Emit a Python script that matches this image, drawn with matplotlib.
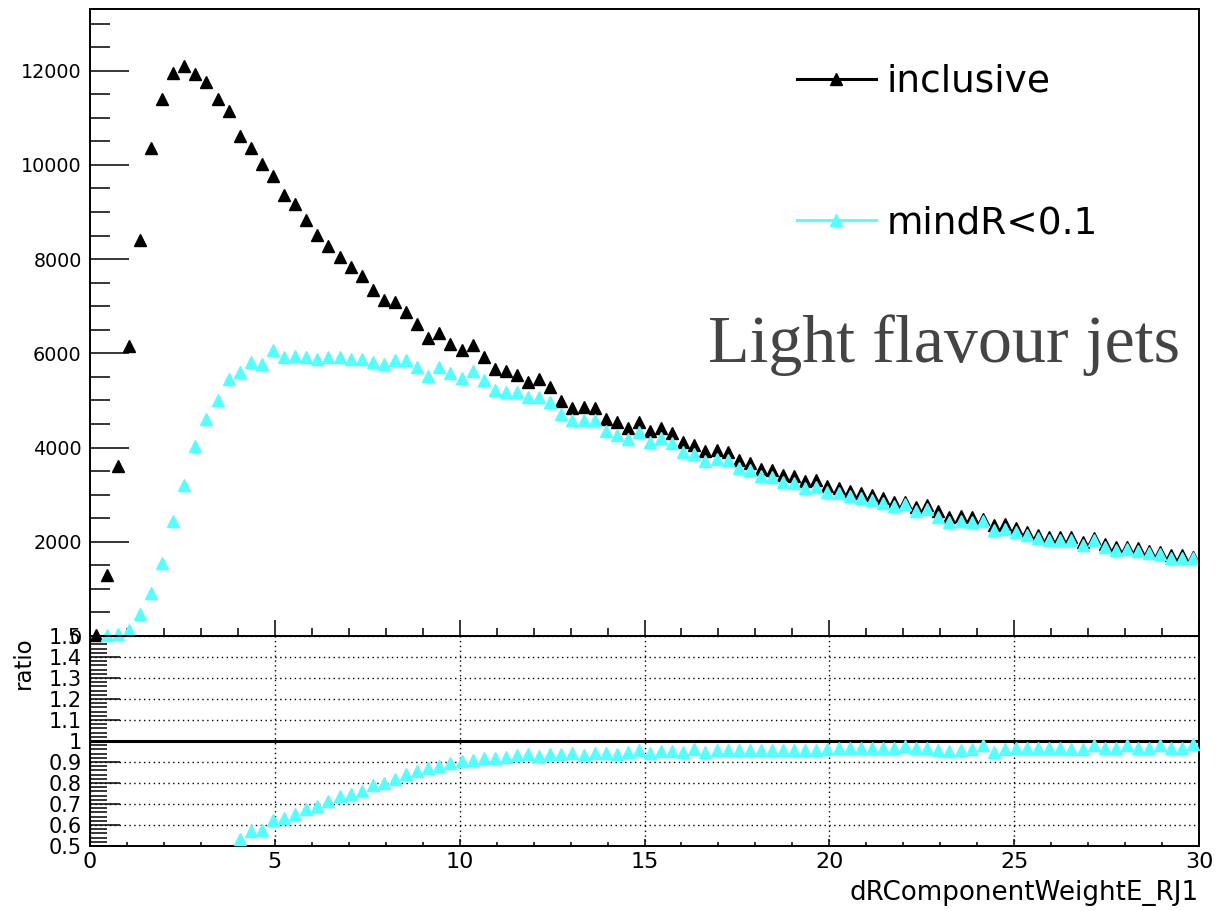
import numpy as np
import matplotlib
matplotlib.use('Agg')
import matplotlib.pyplot as plt
from matplotlib.lines import Line2D
from matplotlib.ticker import MultipleLocator, FixedLocator, FuncFormatter

# histogram binning: 100 bins on [0, 30]
bin_edges = np.linspace(0, 30, 101)
bin_centers = 0.5 * (bin_edges[:-1] + bin_edges[1:])

inclusive = [30, 1300, 3600, 6150, 8410, 10360, 11400, 11960, 12100, 11920,
             11770, 11410, 11140, 10620, 10360, 10030, 9760, 9360, 9180, 8840,
             8510, 8280, 8040, 7840, 7650, 7350, 7140, 7100, 6870, 6625,
             6320, 6440, 6200, 6070, 6180, 5920, 5660, 5620, 5540, 5400,
             5450, 5290, 4990, 4850, 4865, 4850, 4600, 4545, 4405, 4545,
             4355, 4405, 4300, 4120, 4050, 3920, 3945, 3905, 3730, 3675,
             3555, 3530, 3410, 3390, 3290, 3305, 3185, 3150, 3075, 3030,
             2985, 2920, 2850, 2845, 2745, 2780, 2650, 2530, 2545, 2525,
             2490, 2355, 2370, 2285, 2215, 2140, 2105, 2105, 2105, 2000,
             2070, 1945, 1895, 1895, 1860, 1815, 1780, 1710, 1710, 1675]

# first bin is empty (not drawn)
mindr = [np.nan, 20, 40, 130, 470, 905, 1545, 2440, 3215, 4030,
         4615, 5020, 5460, 5610, 5825, 5765, 6070, 5915, 5945, 5915,
         5880, 5930, 5915, 5880, 5880, 5810, 5775, 5850, 5860, 5705,
         5515, 5705, 5590, 5470, 5630, 5435, 5220, 5175, 5175, 5080,
         5080, 4965, 4710, 4595, 4595, 4590, 4345, 4275, 4185, 4340,
         4120, 4210, 4095, 3910, 3860, 3720, 3765, 3740, 3560, 3520,
         3400, 3385, 3265, 3240, 3150, 3165, 3055, 3040, 2975, 2920,
         2890, 2820, 2755, 2800, 2650, 2690, 2535, 2415, 2440, 2430,
         2445, 2240, 2280, 2205, 2140, 2070, 2030, 2035, 2030, 1925,
         2035, 1880, 1835, 1855, 1795, 1755, 1745, 1650, 1650, 1650]

# ratio mindR/inclusive, first visible bin is 13 (lower bins fall below 0.5)
ratio_first_bin = 13
ratio = [0.532, 0.571, 0.575, 0.622, 0.632, 0.651, 0.675, 0.691, 0.714, 0.738,
         0.749, 0.762, 0.789, 0.802, 0.821, 0.845, 0.857, 0.870, 0.881, 0.894,
         0.905, 0.910, 0.921, 0.921, 0.924, 0.932, 0.940, 0.929, 0.936, 0.940,
         0.943, 0.933, 0.943, 0.945, 0.940, 0.949, 0.956, 0.943, 0.952, 0.952,
         0.949, 0.960, 0.947, 0.955, 0.957, 0.955, 0.958, 0.956, 0.958, 0.957,
         0.956, 0.958, 0.957, 0.960, 0.966, 0.967, 0.965, 0.968, 0.966, 0.967,
         0.975, 0.966, 0.968, 0.955, 0.953, 0.958, 0.962, 0.982, 0.950, 0.962,
         0.965, 0.966, 0.968, 0.965, 0.966, 0.964, 0.962, 0.982, 0.966, 0.968,
         0.980, 0.966, 0.967, 0.980, 0.965, 0.966, 0.985]

labels = ['inclusive', 'mindR<0.1']
cyan = '#55ffff'

W, H = 1216, 911
fig = plt.figure(figsize=(W / 100, H / 100), dpi=100)
fig.patch.set_facecolor('white')

def px_axes(x0, y0, x1, y1):
    return fig.add_axes([x0 / W, 1 - y1 / H, (x1 - x0) / W, (y1 - y0) / H])

ax2 = px_axes(90, 636, 1199, 846)
ax1 = px_axes(90, 9, 1199, 636)
ax1.set_zorder(3)
ax2.set_zorder(1)

ms = 8
# top panel
ax1.plot(bin_centers, inclusive, ls='none', marker='^', ms=ms, color='black',
         mec='black', clip_on=False)
ax1.plot(bin_centers, mindr, ls='none', marker='^', ms=ms, color=cyan,
         mec=cyan, clip_on=False)
ax1.set_xlim(0, 30)
ax1.set_ylim(0, 13310)
ax1.xaxis.set_major_locator(MultipleLocator(5))
ax1.xaxis.set_minor_locator(MultipleLocator(1))
ax1.yaxis.set_major_locator(MultipleLocator(2000))
ax1.yaxis.set_minor_locator(MultipleLocator(500))
ax1.tick_params(axis='x', which='both', direction='in', labelbottom=False, width=1.1)
ax1.tick_params(axis='x', which='major', length=11.5)
ax1.tick_params(axis='x', which='minor', length=5.8)
ax1.tick_params(axis='y', which='both', direction='in', width=1.1, labelsize=13.8, pad=6)
ax1.tick_params(axis='y', which='major', length=28)
ax1.tick_params(axis='y', which='minor', length=14.4)
for s in ax1.spines.values():
    s.set_linewidth(1.4)

handles = [Line2D([], [], color='black', lw=2.2, marker='^', ms=ms),
           Line2D([], [], color=cyan, lw=2.2, marker='^', ms=ms)]
fig.legend(handles, labels, loc='upper left', bbox_to_anchor=(797 / W, 1 - 64 / H),
           frameon=False, fontsize=27, handlelength=2.1, handletextpad=0.3,
           labelspacing=2.8, borderpad=0, borderaxespad=0)

fig.text(1180 / W, 1 - 362 / H, 'Light flavour jets', ha='right', va='baseline',
         fontsize=49, family='Liberation Serif', color='#444444')

# ratio panel
ax2.plot(bin_centers[ratio_first_bin:], ratio, ls='none', marker='^', ms=ms,
         color=cyan, mec=cyan, zorder=4)
ax2.axhline(1.0, color='black', lw=2.2, zorder=3)
ax2.set_xlim(0, 30)
ax2.set_ylim(0.5, 1.5)
ax2.xaxis.set_major_locator(MultipleLocator(5))
ax2.xaxis.set_minor_locator(MultipleLocator(1))
ax2.yaxis.set_major_locator(FixedLocator(np.round(np.arange(0.5, 1.51, 0.1), 2)))
ax2.yaxis.set_minor_locator(MultipleLocator(0.02))
ax2.yaxis.set_major_formatter(FuncFormatter(lambda v, p: '%g' % round(v, 2)))
ax2.grid(True, which='major', color='black', lw=1.0, ls=(0, (1, 2.5)))
ax2.tick_params(axis='x', which='both', direction='in', width=1.1, labelsize=16, pad=4)
ax2.tick_params(axis='x', which='major', length=5)
ax2.tick_params(axis='x', which='minor', length=3)
ax2.tick_params(axis='y', which='both', direction='in', width=1.1, labelsize=15, pad=6)
ax2.tick_params(axis='y', which='major', length=21.6)
ax2.tick_params(axis='y', which='minor', length=12)
for s in ax2.spines.values():
    s.set_linewidth(1.4)
ax2.set_ylabel('ratio', fontsize=16.5)
ax2.yaxis.set_label_coords(-55 / 1109, 1.0)
ax2.yaxis.label.set_va('bottom')
ax2.yaxis.label.set_ha('right')
ax2.set_xlabel('dRComponentWeightE_RJ1', fontsize=18.8)
ax2.xaxis.set_label_coords(1.0, -0.16)
ax2.xaxis.label.set_ha('right')
ax2.xaxis.label.set_va('top')

fig.savefig('out.png', dpi=100)
